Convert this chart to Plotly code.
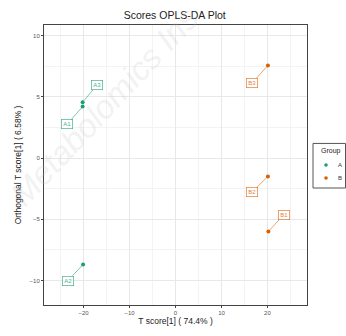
import plotly.graph_objects as go

# Sample scores on the predictive and orthogonal components
groups = ["A", "A", "A", "B", "B", "B"]
samples = ["A1", "A2", "A3", "B1", "B2", "B3"]
t_score = [-20.2, -20.1, -20.2, 20.2, 20.1, 20.1]
ortho_score = [4.2, -8.7, 4.55, -6.0, -1.5, 7.55]
# positions (data units) of the repelled sample tags
label_x = [-23.6, -23.4, -17.1, 23.5, 16.6, 16.7]
label_y = [2.75, -10.0, 5.95, -4.65, -2.8, 6.15]
group_names = ["A", "B"]

colors = {"A": "#1b9e77", "B": "#d95f02"}
font = "Liberation Sans, Arial, sans-serif"

# panel geometry in pixels
W, H = 346, 336
ML, MR, MT, MB = 44, 39, 25, 19
pw, ph = W - ML - MR, H - MT - MB


def px_x(px):
    return (px - ML) / pw


def px_y(py):
    return (H - MB - py) / ph


fig = go.Figure()
for g in group_names:
    idx = [i for i, gg in enumerate(groups) if gg == g]
    fig.add_trace(go.Scatter(
        x=[t_score[i] for i in idx], y=[ortho_score[i] for i in idx],
        mode="markers", name=g, showlegend=False,
        marker=dict(color=colors[g], size=4),
    ))

for i, s in enumerate(samples):
    c = colors[groups[i]]
    fig.add_annotation(
        x=t_score[i], y=ortho_score[i], ax=label_x[i], ay=label_y[i],
        xref="x", yref="y", axref="x", ayref="y",
        text=s, showarrow=True, arrowhead=0, arrowwidth=0.7,
        arrowcolor=c, standoff=2,
        font=dict(family=font, size=6, color=c),
        bgcolor="white", bordercolor=c, borderwidth=0.7, borderpad=1.5,
        opacity=0.8,
    )

# faint diagonal watermark
fig.add_annotation(
    text="<i>Metabolomics Ins</i>", x=px_x(104), y=px_y(110),
    xref="paper", yref="paper", xanchor="center", yanchor="middle",
    showarrow=False, textangle=-47,
    font=dict(family=font, size=33, color="rgba(190,190,190,0.2)"),
)

# legend box drawn beside the panel
fig.add_shape(type="rect", xref="paper", yref="paper",
              x0=px_x(313), x1=px_x(345.5), y0=px_y(195), y1=px_y(148.5),
              line=dict(color="#555555", width=1), fillcolor="white")
fig.add_annotation(text="Group", x=px_x(318.5), y=px_y(156.5), xref="paper", yref="paper",
                   xanchor="left", yanchor="middle", showarrow=False,
                   font=dict(family=font, size=7, color="#222222"))
for k, g in enumerate(group_names):
    cy = 171 + k * 13.5
    r = 1.8
    fig.add_shape(type="circle", xref="paper", yref="paper",
                  x0=px_x(326 - r), x1=px_x(326 + r), y0=px_y(cy + r), y1=px_y(cy - r),
                  line=dict(width=0), fillcolor=colors[g])
    fig.add_annotation(text=g, x=px_x(336), y=px_y(cy), xref="paper", yref="paper",
                       xanchor="left", yanchor="middle", showarrow=False,
                       font=dict(family=font, size=6, color="#333333"))

axis_common = dict(
    showline=True, linecolor="#444444", linewidth=1, mirror=True,
    ticks="outside", ticklen=2, tickcolor="#444444",
    tickfont=dict(family=font, size=6, color="#555555"),
    gridcolor="#e8e8e8", gridwidth=0.6, zeroline=False,
)

fig.update_layout(
    width=W, height=H,
    margin=dict(l=ML, r=MR, t=MT, b=MB),
    paper_bgcolor="white", plot_bgcolor="white",
    title=dict(text="Scores OPLS-DA Plot", x=0.505, xanchor="center",
               y=0.955, yanchor="middle",
               font=dict(family=font, size=10.5, color="#222222")),
    xaxis=dict(range=[-28.6, 28.6], tick0=0, dtick=10,
               minor=dict(dtick=5, showgrid=True, gridcolor="#f3f3f3", gridwidth=0.4),
               title=dict(text="T score[1] ( 74.4% )", standoff=2,
                          font=dict(family=font, size=8.5, color="#222222")),
               **axis_common),
    yaxis=dict(range=[-12.0, 10.86], tick0=0, dtick=5,
               minor=dict(dtick=2.5, showgrid=True, gridcolor="#f3f3f3", gridwidth=0.4),
               title=dict(text="Orthogonal T score[1] ( 6.58% )", standoff=6,
                          font=dict(family=font, size=8.5, color="#222222")),
               **axis_common),
    showlegend=False,
)

fig.write_html("out.html")
